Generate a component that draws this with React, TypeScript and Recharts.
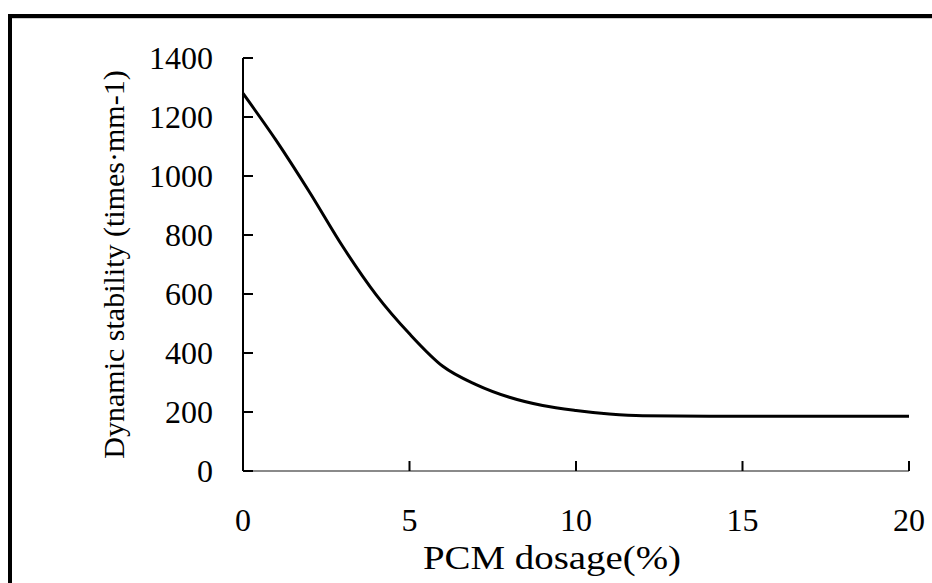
import React from 'react';
import { LineChart, Line, XAxis, YAxis, Label } from 'recharts';

const dosage = [0, 1, 2, 3, 4, 5, 6, 7, 8, 9, 10, 11, 12, 14, 16, 18, 20];
const stability = [1280, 1120, 945, 760, 597, 465, 355, 293, 250, 222, 205, 193, 187, 186, 186, 186, 186];
const xTicks = [0, 5, 10, 15, 20];
const yTicks = [0, 200, 400, 600, 800, 1000, 1200, 1400];

const data = dosage.map((d, i) => ({ dosage: d, stability: stability[i] }));

const font = '"Liberation Serif", "Times New Roman", serif';
const X_GAP = 37; // axis line to top of x tick text
const Y_GAP = 30; // axis line to right edge of y tick text
const TICK_LEN = 10;

// ticks point inwards, so draw the tick mark together with its label
const renderXTick = (props: any) => {
    const { x, y, payload } = props;
    const axisY = Number(y) - X_GAP;
    return (
        <g key={`xt-${payload.value}`}>
            <path d={`M${x},${axisY}V${axisY - TICK_LEN}`} stroke="#000" strokeWidth={2} fill="none" />
            <text x={x} y={y} dy="0.71em" textAnchor="middle" fontSize={32} fontFamily={font} fill="#000">
                {payload.value}
            </text>
        </g>
    );
};

const renderYTick = (props: any) => {
    const { x, y, payload } = props;
    const axisX = Number(x) + Y_GAP;
    return (
        <g key={`yt-${payload.value}`}>
            <path d={`M${axisX},${y}H${axisX + TICK_LEN}`} stroke="#000" strokeWidth={2} fill="none" />
            <text x={x} y={y} dy="0.355em" textAnchor="end" fontSize={32} fontFamily={font} fill="#000">
                {payload.value}
            </text>
        </g>
    );
};

const App: React.FC = () => {
    return (
        <div style={{ position: 'absolute', left: 0, top: 0, width: 932, height: 583, overflow: 'hidden', background: '#fff' }}>
            <div
                style={{
                    position: 'absolute',
                    left: 8,
                    top: 14,
                    width: 1000,
                    height: 700,
                    border: '4px solid #000',
                    boxShadow: 'inset 0 1px 0 #ccc',
                }}
            />
            <div style={{ position: 'absolute', left: 0, top: 0 }}>
                <LineChart width={932} height={583} data={data} margin={{ top: 58, right: 23, left: 143, bottom: 52 }}>
                    <XAxis
                        dataKey="dosage"
                        type="number"
                        domain={[0, 20]}
                        ticks={xTicks}
                        height={60}
                        axisLine={{ stroke: '#8a8a8a', strokeWidth: 2 }}
                        tickLine={false}
                        tickSize={0}
                        tickMargin={X_GAP}
                        tick={renderXTick}
                    >
                        <Label
                            content={(props: any) => {
                                const vb = props.viewBox;
                                return (
                                    <text
                                        x={vb.x + 180}
                                        y={vb.y + 98}
                                        fontSize={33}
                                        fontFamily={font}
                                        fill="#000"
                                        textLength={258}
                                        lengthAdjust="spacingAndGlyphs"
                                    >
                                        PCM dosage(%)
                                    </text>
                                );
                            }}
                        />
                    </XAxis>
                    <YAxis
                        type="number"
                        domain={[0, 1400]}
                        ticks={yTicks}
                        width={100}
                        axisLine={{ stroke: '#000', strokeWidth: 2 }}
                        tickLine={false}
                        tickSize={0}
                        tickMargin={Y_GAP}
                        tick={renderYTick}
                    >
                        <Label
                            content={(props: any) => {
                                const vb = props.viewBox;
                                const cx = vb.x - 30;
                                const cy = vb.y + vb.height / 2;
                                return (
                                    <text
                                        x={cx}
                                        y={cy}
                                        transform={`rotate(-90, ${cx}, ${cy})`}
                                        textAnchor="middle"
                                        dominantBaseline="central"
                                        fontSize={30}
                                        fontFamily={font}
                                        fill="#000"
                                    >
                                        Dynamic stability (times·mm-1)
                                    </text>
                                );
                            }}
                        />
                    </YAxis>
                    <Line
                        type="monotone"
                        dataKey="stability"
                        stroke="#000"
                        strokeWidth={3}
                        dot={false}
                        isAnimationActive={false}
                    />
                </LineChart>
            </div>
        </div>
    );
};

export default App;
